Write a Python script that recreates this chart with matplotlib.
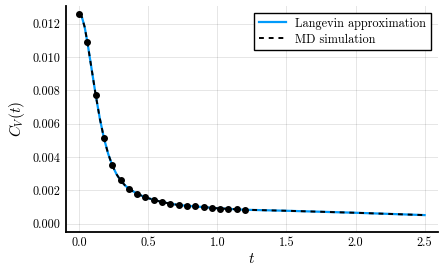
import matplotlib
matplotlib.use("Agg")
import matplotlib.pyplot as plt

plt.rcParams["font.family"] = ["cmr10", "DejaVu Serif"]
plt.rcParams["mathtext.fontset"] = "cm"
plt.rcParams["axes.formatter.use_mathtext"] = True

# Langevin approximation curve
lang_t = [0.0, 0.02, 0.04, 0.06, 0.09, 0.12, 0.15, 0.18, 0.21, 0.24, 0.27,
          0.30, 0.33, 0.36, 0.42, 0.48, 0.60, 0.72, 0.84, 1.0, 1.2, 1.5,
          2.0, 2.5]
lang_c = [0.01256, 0.01240, 0.01180, 0.01088, 0.00930, 0.00772, 0.00630,
          0.00512, 0.00420, 0.00350, 0.00298, 0.00260, 0.00232, 0.00210,
          0.00180, 0.00158, 0.00130, 0.00112, 0.00104, 0.00093, 0.00084,
          0.00078, 0.00066, 0.00052]

# MD simulation samples
md_t = [0.0, 0.06, 0.12, 0.18, 0.24, 0.30, 0.36, 0.42, 0.48, 0.54, 0.60,
        0.66, 0.72, 0.78, 0.84, 0.90, 0.96, 1.02, 1.08, 1.14, 1.20]
md_c = [0.01256, 0.01088, 0.00772, 0.00512, 0.00350, 0.00260, 0.00210,
        0.00180, 0.00158, 0.00145, 0.00130, 0.00120, 0.00112, 0.00108,
        0.00104, 0.00098, 0.00094, 0.00090, 0.00088, 0.00086, 0.00084]

x_ticks = [0.0, 0.5, 1.0, 1.5, 2.0, 2.5]
y_ticks = [0.000, 0.002, 0.004, 0.006, 0.008, 0.010, 0.012]

fig = plt.figure(figsize=(4.45, 2.73), dpi=100)
ax = fig.add_axes([0.148, 0.151, 0.836, 0.827])

ax.plot(lang_t, lang_c, color="#009AFA", lw=1.6, label="Langevin approximation")
ax.plot(lang_t, lang_c, color="black", lw=1.4, ls=(0, (2.5, 2.5)), label="MD simulation")
ax.scatter(md_t, md_c, s=16, color="black", zorder=3)

ax.set_xlim(-0.096, 2.596)
ax.set_ylim(-0.00048, 0.01306)
ax.set_xticks(x_ticks)
ax.set_yticks(y_ticks)
ax.set_xticklabels([f"{v:.1f}" for v in x_ticks])
ax.set_yticklabels([f"{v:.3f}" for v in y_ticks])
ax.tick_params(length=0, labelsize=8.8, pad=4)

ax.grid(True, color="black", alpha=0.1, lw=0.7)
for side in ("top", "right"):
    ax.spines[side].set_visible(False)
for side in ("left", "bottom"):
    ax.spines[side].set_linewidth(1.3)

ax.set_xlabel("$t$", fontsize=11, labelpad=2)
ax.set_ylabel("$C_V(t)$", fontsize=11, labelpad=4)

leg = ax.legend(loc="upper right", fontsize=8.8, fancybox=False,
                framealpha=1, edgecolor="black", borderaxespad=0.6,
                handlelength=2.2, borderpad=0.35, labelspacing=0.3)
leg.get_frame().set_linewidth(1.0)

fig.savefig("out.png", dpi=100)
